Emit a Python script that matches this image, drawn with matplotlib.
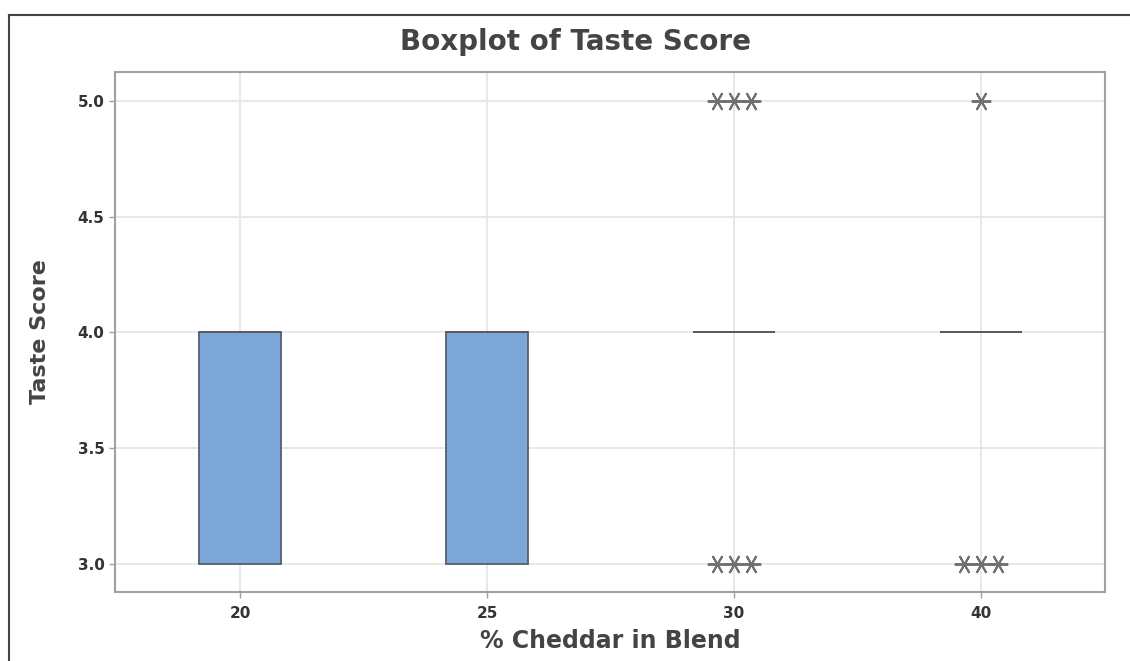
import matplotlib
matplotlib.use("Agg")
import matplotlib.pyplot as plt
from matplotlib.lines import Line2D

# Percent cheddar groups and taste score summaries
categories = ["20", "25", "30", "40"]
q1_values = [3.0, 3.0, 4.0, 4.0]
median_values = [4.0, 4.0, 4.0, 4.0]
q3_values = [4.0, 4.0, 4.0, 4.0]
whisker_low = [3.0, 3.0, 4.0, 4.0]
whisker_high = [4.0, 4.0, 4.0, 4.0]
outliers = [
    [],
    [],
    [5.0, 5.0, 5.0, 3.0, 3.0, 3.0],
    [5.0, 3.0, 3.0, 3.0],
]
y_ticks = [3.0, 3.5, 4.0, 4.5, 5.0]

plt.rcParams["font.family"] = ["DejaVu Sans"]

fig = plt.figure(figsize=(11.3, 6.61), dpi=100)
ax = fig.add_axes([115 / 1130, 1 - 592 / 661, 990 / 1130, 520 / 661])

positions = list(range(1, len(categories) + 1))
stats = []
for i, cat in enumerate(categories):
    stats.append(dict(label=cat, q1=q1_values[i], med=median_values[i],
                      q3=q3_values[i], whislo=whisker_low[i],
                      whishi=whisker_high[i], fliers=[]))

box_fill = "#7DA6D8"
box_edge = "#55606e"
ax.bxp(stats, positions=positions, widths=0.33, patch_artist=True,
       showfliers=False, showcaps=False,
       boxprops=dict(facecolor=box_fill, edgecolor=box_edge, linewidth=1.3),
       medianprops=dict(color="#5a5a5a", linewidth=1.3),
       whiskerprops=dict(color=box_edge, linewidth=1.0),
       zorder=3)

# Tied outliers are drawn side by side around the group position
spacing = 0.07
for pos, vals in zip(positions, outliers):
    for level in sorted(set(vals)):
        n = vals.count(level)
        xs = [pos + (k - (n - 1) / 2) * spacing for k in range(n)]
        ax.plot(xs, [level] * n, linestyle="none", marker=(6, 2, 90),
                markersize=14, markeredgewidth=1.4, color="#707070", zorder=4)

ax.set_xlim(0.494, 4.502)
ax.set_ylim(2.879, 5.125)
ax.set_xticks(positions)
ax.set_xticklabels(categories)
ax.set_yticks(y_ticks)
ax.set_yticklabels([f"{v:.1f}" for v in y_ticks])

ax.grid(True, color="#e6e6e6", linewidth=1.3, zorder=0)
ax.set_axisbelow(True)
for s in ax.spines.values():
    s.set_color("#a0a0a0")
    s.set_linewidth(1.5)
ax.tick_params(axis="both", colors="#a0a0a0", length=4, width=1.0,
               labelcolor="#333333", labelsize=11)
ax.tick_params(axis="x", pad=6)
for lbl in ax.get_xticklabels() + ax.get_yticklabels():
    lbl.set_fontweight("bold")

ax.set_xlabel("% Cheddar in Blend", fontsize=17, fontweight="bold",
              color="#444444", labelpad=6)
ax.set_ylabel("Taste Score", fontsize=16, fontweight="bold",
              color="#444444", labelpad=20)

fig.text(575 / 1130, 1 - 42 / 661, "Boxplot of Taste Score", ha="center",
         va="center", fontsize=20, fontweight="bold", color="#444444")

# Outer frame (left and top edges)
fig.add_artist(Line2D([9 / 1130, 9 / 1130], [0, 1 - 15 / 661],
                      transform=fig.transFigure, color="#444444", linewidth=1.5))
fig.add_artist(Line2D([9 / 1130, 1], [1 - 15 / 661, 1 - 15 / 661],
                      transform=fig.transFigure, color="#444444", linewidth=1.5))

fig.savefig("out.png", dpi=100, facecolor="white")
